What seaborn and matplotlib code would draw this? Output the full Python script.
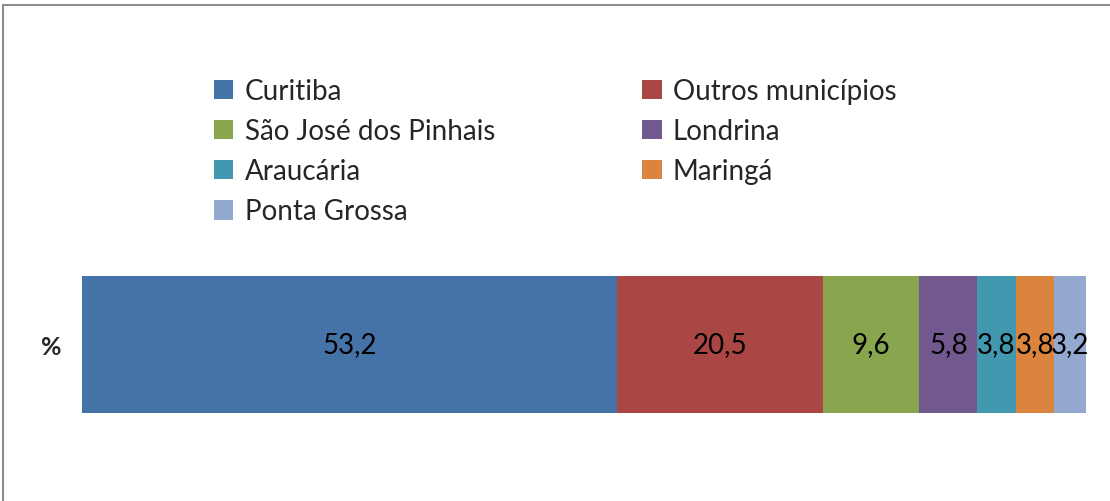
import matplotlib
matplotlib.use("Agg")
import matplotlib.pyplot as plt
import seaborn as sns
import numpy as np
import pandas as pd
from matplotlib.patches import Patch, Rectangle

# ---- data ----
categories = ["Curitiba", "Outros municípios", "São José dos Pinhais", "Londrina",
              "Araucária", "Maringá", "Ponta Grossa"]
values = [53.2, 20.5, 9.6, 5.8, 3.8, 3.8, 3.2]
value_labels = ["53,2", "20,5", "9,6", "5,8", "3,8", "3,8", "3,2"]
row_label = "%"
colors = ["#4572A7", "#AA4643", "#89A54E", "#71588F", "#4198AF", "#DB843D", "#93A9CF"]

sns.set_theme(style="white")
plt.rcParams["font.family"] = ["Lato", "DejaVu Sans"]

W, H = 1110, 502
fig = plt.figure(figsize=(W / 100, H / 100), dpi=100)

def px(x0, y0, x1, y1):
    return [x0 / W, 1 - y1 / H, (x1 - x0) / W, (y1 - y0) / H]

# chart border (partially cropped in the reference)
fig.patches.append(Rectangle((3 / W, -0.05), 1.2, 1 - 6 / H + 0.05, transform=fig.transFigure,
                             fill=False, edgecolor="#8c8c8c", linewidth=1.5))

ax = fig.add_axes(px(82, 277, 1087, 414))

cum = np.cumsum(values)
df = pd.DataFrame({"cat": [row_label] * len(values), "cum": cum, "serie": categories})
# draw from the largest cumulative total to the smallest so segments stack
for i in range(len(values) - 1, -1, -1):
    sns.barplot(data=df.iloc[[i]], x="cum", y="cat", color=colors[i], width=1.0,
                saturation=1, ax=ax, orient="h", linewidth=0)

ax.set_xlim(0, 100)
ax.set_ylim(0.5, -0.5)
ax.set_xlabel("")
ax.set_ylabel("")
ax.set_xticks([])
ax.tick_params(axis="y", length=0, pad=15)
for t in ax.get_yticklabels():
    t.set_fontweight("bold")
    t.set_fontsize(18)
for s in ax.spines.values():
    s.set_visible(False)

starts = cum - np.array(values)
for st, v, lab in zip(starts, values, value_labels):
    ax.text(st + v / 2, 0, lab, ha="center", va="center", fontsize=20, color="black")

handles = [Patch(facecolor=c, edgecolor="none") for c in colors]
order = [0, 2, 4, 6, 1, 3, 5]
fig.legend([handles[i] for i in order], [categories[i] for i in order], ncol=2,
           loc="upper left", bbox_to_anchor=(214 / W, 1 - 79 / H), frameon=False,
           fontsize=20, handlelength=0.7, handleheight=0.7, handletextpad=0.4,
           labelspacing=0.51, columnspacing=5.3, borderpad=0, borderaxespad=0)

fig.savefig("out.png", dpi=100)
